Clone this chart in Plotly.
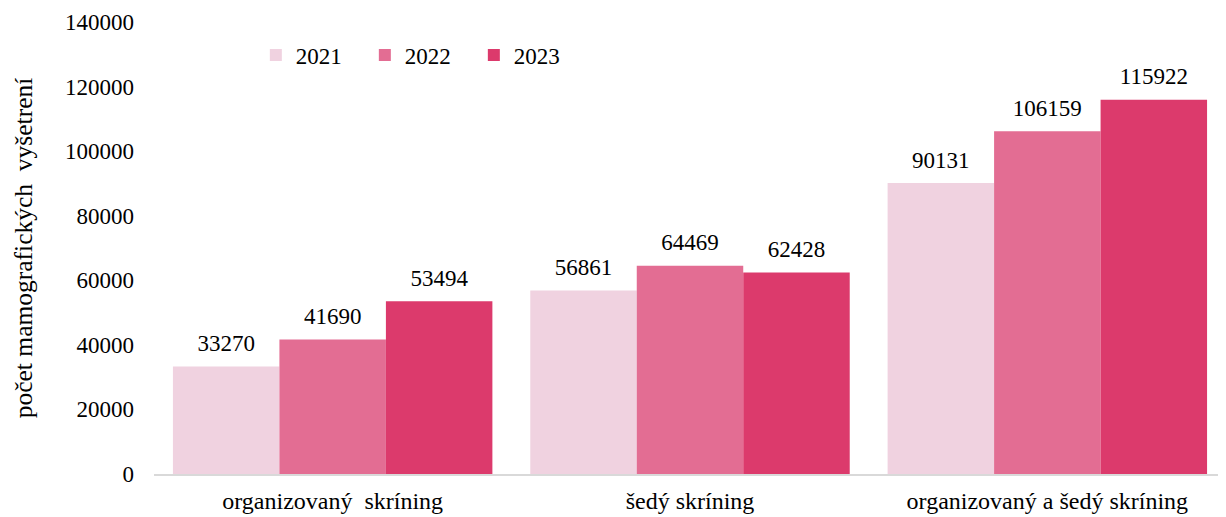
import plotly.graph_objects as go

categories = ["organizovaný\u00a0 skríning", "šedý skríning", "organizovaný a šedý skríning"]
years = ["2021", "2022", "2023"]
values_2021 = [33270, 56861, 90131]
values_2022 = [41690, 64469, 106159]
values_2023 = [53494, 62428, 115922]
colors = ["#f0d2e0", "#e36d93", "#dc3a6c"]

series = [values_2021, values_2022, values_2023]
font_family = "Times New Roman, Liberation Serif, DejaVu Serif, serif"

fig = go.Figure()
for year, vals, col in zip(years, series, colors):
    fig.add_trace(go.Bar(x=categories, y=vals, name=year, marker_color=col,
                         marker_line_width=0, offsetgroup=year))
# value labels, aligned with the bars through scattermode="group"
# (invisible markers push the text a little higher above the bar)
for year, vals in zip(years, series):
    fig.add_trace(go.Scatter(x=categories, y=vals, mode="markers+text", text=[str(v) for v in vals],
                             textposition="top center", offsetgroup=year, showlegend=False,
                             marker=dict(size=14, color="rgba(0,0,0,0)"), hoverinfo="skip",
                             textfont=dict(family=font_family, size=23, color="#000000")))

# page body has an 8px margin, so the figure is a bit smaller than the window
fig.update_layout(
    width=1218, height=509,
    barmode="group", bargap=0.106, bargroupgap=0,
    scattermode="group", scattergap=0.106,
    plot_bgcolor="white", paper_bgcolor="white",
    margin=dict(l=146, r=0, t=14, b=43),
    font=dict(family=font_family, size=23, color="#000000"),
    legend=dict(orientation="h", x=0.095, xanchor="left", y=0.927, yanchor="middle",
                entrywidth=64, entrywidthmode="pixels", font=dict(size=23),
                bgcolor="rgba(0,0,0,0)"),
    showlegend=True,
)
fig.update_xaxes(showline=True, linecolor="#d9d9d9", linewidth=2, showgrid=False,
                 ticks="", ticklabelstandoff=4, tickfont=dict(size=24))
fig.update_yaxes(range=[0, 140000], dtick=20000, showgrid=False, zeroline=False,
                 showline=False, ticks="", ticklabelstandoff=19, tickformat="d",
                 tickfont=dict(size=23),
                 title=dict(text="počet mamografických\u00a0 vyšetrení", standoff=25,
                            font=dict(size=25.5)))

fig.write_html("out.html")
